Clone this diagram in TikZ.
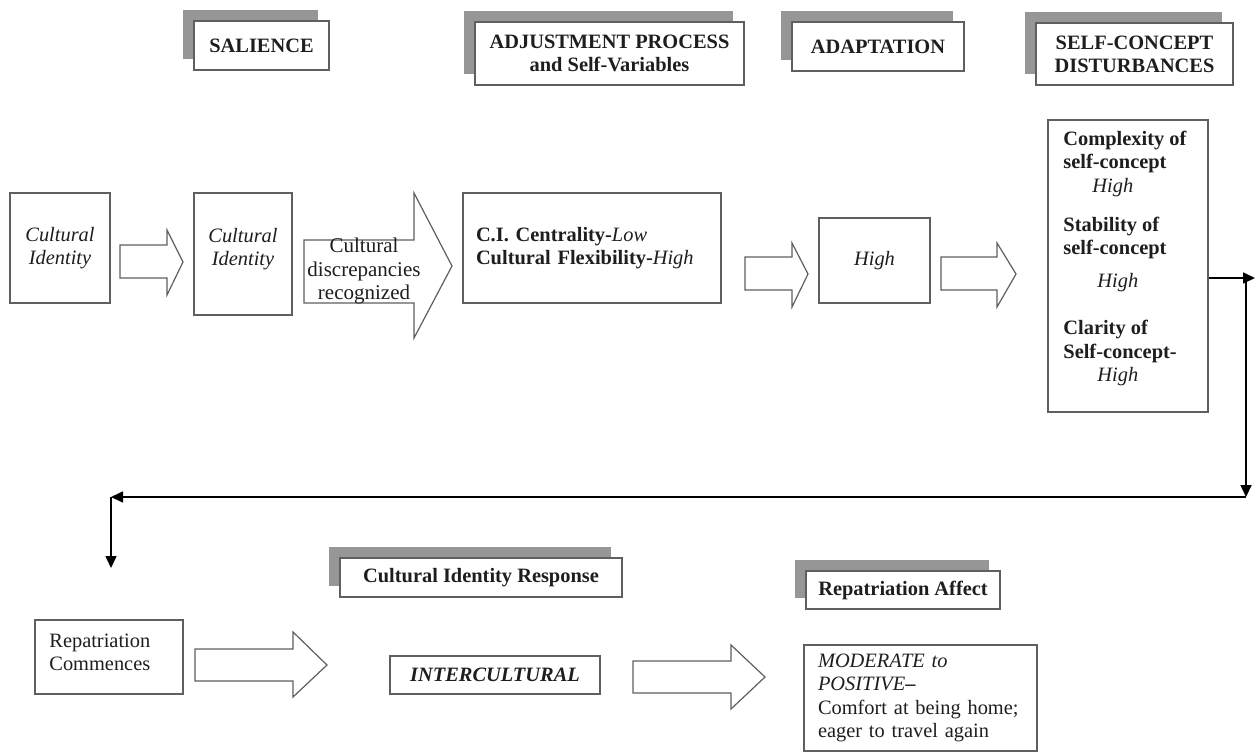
\documentclass[tikz,border=0pt]{standalone}
\usepackage{fontspec}
\setmainfont{Liberation Serif}
\usetikzlibrary{shadows,arrows.meta}
\definecolor{shadowgray}{RGB}{150,150,150}
\definecolor{linegray}{RGB}{95,95,95}
\definecolor{txt}{RGB}{30,30,30}
\begin{document}
\begin{tikzpicture}[x=0.5pt,y=-0.5pt,
  every node/.style={font=\fontsize{10.2}{11.6}\selectfont, text=txt},
  box/.style={draw=linegray, line width=0.6pt, inner sep=0pt, fill=white},
  hdr/.style={box, general shadow={fill=shadowgray, shadow xshift=-5.5pt, shadow yshift=5.5pt}, font=\fontsize{10.2}{11.6}\selectfont\bfseries, align=center},
  barrow/.style={draw=linegray, line width=0.6pt, fill=white, line join=miter},
  conn/.style={draw=black, line width=0.8pt, -{Triangle[length=6pt,width=5.5pt]}},
  plain/.style={inner sep=0pt},
]
\useasboundingbox (0,0) rectangle (1256,754);

% header boxes
\node[hdr, minimum width=67.5pt, minimum height=24.5pt] (h1) at (261.5,45.5) {SALIENCE};
\node[hdr, minimum width=134.5pt, minimum height=31.5pt] (h2) at (609.5,53.5) {ADJUSTMENT PROCESS\\and Self-Variables};
\node[hdr, minimum width=86pt, minimum height=24.5pt] (h3) at (878,46.5) {ADAPTATION};
\node[hdr, minimum width=98.5pt, minimum height=31pt] (h4) at (1134.5,54) {SELF-CONCEPT\\DISTURBANCES};
\node[hdr, minimum width=141pt, minimum height=19.5pt] (h5) at (481,577.5) {Cultural Identity Response};
\node[hdr, minimum width=97pt, minimum height=19pt] (h6) at (903,590) {Repatriation Affect};

% top row
\node[box, minimum width=50pt, minimum height=55pt, align=center] (b1) at (60,248) {\textit{Cultural}\\\textit{Identity}};
\draw[barrow] (120,245) -- (167,245) -- (167,230) -- (183,262) -- (167,295) -- (167,278) -- (120,278) -- cycle;
\node[box, minimum width=49pt, minimum height=61pt] (b2) at (243,254) {};
\node[plain, align=center] (b2t) at (243,249) {\textit{Cultural}\\\textit{Identity}};
\draw[barrow] (304,240) -- (414,240) -- (414,193) -- (452,266) -- (414,338) -- (414,303) -- (304,303) -- cycle;
\node[plain, align=center, font=\fontsize{10.5}{11.8}\selectfont] (disc) at (364,271) {Cultural\\discrepancies\\recognized};
\node[box, minimum width=129pt, minimum height=55pt, text width=116pt, align=left] (ci) at (592,248) {\textbf{C.I. Centrality-}\textit{Low}\\\textbf{Cultural Flexibility-}\textit{High}};
\draw[barrow] (745,257) -- (792,257) -- (792,243) -- (808,274) -- (792,307) -- (792,290) -- (745,290) -- cycle;
\node[box, minimum width=55.5pt, minimum height=42.5pt] (hi) at (874.5,260.5) {\textit{High}};
\draw[barrow] (941,257) -- (997,257) -- (997,243) -- (1016,274) -- (997,307) -- (997,290) -- (941,290) -- cycle;
\node[box, minimum width=80pt, minimum height=146pt] (tall) at (1128,266) {};
\node[plain, anchor=north west, align=left] (tallt) at (1063,131) {%
\textbf{Complexity of}\\
\textbf{self-concept}\\
\hspace*{14.5pt}\textit{High}\\[8pt]
\textbf{Stability of}\\
\textbf{self-concept}\\[5pt]
\hspace*{17pt}\textit{High}\\[12pt]
\textbf{Clarity of}\\
\textbf{Self-concept-}\\
\hspace*{17pt}\textit{High}};

% connectors
\coordinate (r1) at (1255,278);
\coordinate (r2) at (1246,278);
\coordinate (r3) at (1246,497);
\coordinate (r4) at (111,497);
\coordinate (r5) at (111,568);
\draw[conn] (tall.east |- r1) -- (r1);
\draw[conn] (r2) -- (r3);
\draw[conn] (r3) -- (r4);
\draw[conn] (r4) -- (r5);

% bottom row
\node[box, minimum width=74pt, minimum height=37pt] (rc) at (109,657) {};
\node[plain, anchor=west, align=left] (rct) at (49,652) {Repatriation\\Commences};
\draw[barrow] (195,649) -- (293,649) -- (293,632) -- (327,665) -- (293,697) -- (293,681) -- (195,681) -- cycle;
\node[box, minimum width=105pt, minimum height=19pt] (ic) at (495,675) {\textbf{\textit{INTERCULTURAL}}};
\draw[barrow] (633,661) -- (731,661) -- (731,645) -- (765,677) -- (731,709) -- (731,693) -- (633,693) -- cycle;
\node[box, minimum width=116.5pt, minimum height=53pt, text width=102.5pt, align=left] (mp) at (920.5,698) {\textit{MODERATE to}\\\textit{POSITIVE}\textbf{--}\\Comfort at being home;\\eager to travel again};
\end{tikzpicture}
\end{document}
